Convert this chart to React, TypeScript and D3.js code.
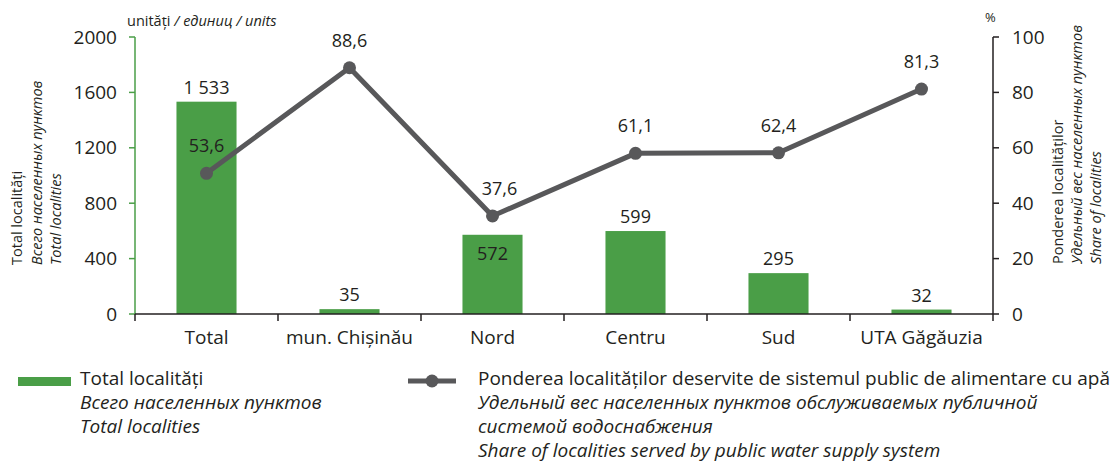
import React from "react";
import * as d3 from "d3";

const categories = ["Total", "mun. Chișinău", "Nord", "Centru", "Sud", "UTA Găgăuzia"];
const localities = [1533, 35, 572, 599, 295, 32];
const shareLabels = ["53,6", "88,6", "37,6", "61,1", "62,4", "81,3"];
// share positions as drawn in the reference
const sharePlotted = [50.8, 88.9, 35.4, 58.0, 58.2, 81.2];
const leftTicks = [0, 400, 800, 1200, 1600, 2000];
const rightTicks = [0, 20, 40, 60, 80, 100];
const insideLabelCats = ["Nord"];

const W = 1113;
const H = 464;
const FONT = "'Open Sans', sans-serif";
const TXT = "#231f20";
const GREEN = "#4a9e47";
const GREY = "#58585a";

export default function App() {
  const x = d3.scaleBand<string>().domain(categories).range([135, 993]).padding(0);
  const yL = d3.scaleLinear().domain([0, 2000]).range([314, 37]);
  const yR = d3.scaleLinear().domain([0, 100]).range([314, 37]);
  const bw = x.step() * 0.42;
  const cx = (c: string) => (x(c) as number) + x.bandwidth() / 2;
  const line = d3
    .line<number>()
    .x((_, i) => cx(categories[i]))
    .y((d) => yR(d));

  const boundaries = d3.range(categories.length + 1).map((i) => 135 + i * x.step());

  return (
    <svg width={W} height={H} style={{ position: "absolute", left: 0, top: 0 }} fontFamily={FONT}>
      <rect width={W} height={H} fill="#fff" />
      {/* bars */}
      {categories.map((c, i) => (
        <rect
          key={c}
          x={cx(c) - bw / 2}
          y={yL(localities[i])}
          width={bw}
          height={yL(0) - yL(localities[i])}
          fill={GREEN}
        />
      ))}
      {/* left axis */}
      <line x1={135} x2={135} y1={yL(2000)} y2={yL(0)} stroke={GREEN} strokeWidth={1.5} />
      {leftTicks.map((t) => (
        <g key={t}>
          <line x1={129} x2={135} y1={yL(t)} y2={yL(t)} stroke={GREEN} strokeWidth={1.5} />
          <text x={117} y={yL(t)} dy="0.35em" textAnchor="end" fontSize={19} fill={TXT}>
            {t}
          </text>
        </g>
      ))}
      {/* right axis */}
      <line x1={993} x2={993} y1={yR(100)} y2={yR(0)} stroke={TXT} strokeWidth={1.5} />
      {rightTicks.map((t) => (
        <g key={t}>
          <line x1={993} x2={999} y1={yR(t)} y2={yR(t)} stroke={TXT} strokeWidth={1.5} />
          <text x={1012} y={yR(t)} dy="0.35em" textAnchor="start" fontSize={19} fill={TXT}>
            {t}
          </text>
        </g>
      ))}
      {/* bottom axis */}
      <line x1={135} x2={993} y1={314} y2={314} stroke={TXT} strokeWidth={1.5} />
      {boundaries.map((b, i) => (
        <line key={i} x1={b} x2={b} y1={314} y2={321} stroke={TXT} strokeWidth={1.5} />
      ))}
      {categories.map((c) => (
        <text key={c} x={cx(c)} y={344} textAnchor="middle" fontSize={19} fill={TXT}>
          {c}
        </text>
      ))}
      {/* bar labels */}
      {categories.map((c, i) => {
        const inside = insideLabelCats.includes(c);
        return (
          <text
            key={c}
            x={cx(c)}
            y={inside ? yL(localities[i]) + 25 : yL(localities[i]) - 8}
            textAnchor="middle"
            fontSize={18}
            fill={TXT}
          >
            {d3.format(",")(localities[i]).replace(/,/g, " ")}
          </text>
        );
      })}
      {/* line */}
      <path d={line(sharePlotted) || ""} fill="none" stroke={GREY} strokeWidth={5} strokeLinejoin="round" />
      {sharePlotted.map((v, i) => (
        <circle key={i} cx={cx(categories[i])} cy={yR(v)} r={6.5} fill={GREY} />
      ))}
      {sharePlotted.map((v, i) => (
        <text key={i} x={cx(categories[i]) + (i === 2 ? 7 : 0)} y={yR(v) - 21} textAnchor="middle" fontSize={18} fill={TXT}>
          {shareLabels[i]}
        </text>
      ))}
      {/* axis units */}
      <text x={127} y={26} fontSize={14.5} fill={TXT}>
        unități <tspan fontStyle="italic">/ единиц / units</tspan>
      </text>
      <text x={985} y={22} fontSize={13} fill={TXT}>
        %
      </text>
      {/* left axis title */}
      <g transform="translate(0,265)">
        <text transform="translate(22,0) rotate(-90)" fontSize={14.5} fill={TXT}>Total localități</text>
        <text transform="translate(42,0) rotate(-90)" fontSize={14.5} fontStyle="italic" fill={TXT}>Всего населенных пунктов</text>
        <text transform="translate(61,0) rotate(-90)" fontSize={14.5} fontStyle="italic" fill={TXT}>Total localities</text>
      </g>
      {/* right axis title */}
      <g transform="translate(0,264)">
        <text transform="translate(1063,0) rotate(-90)" fontSize={14.5} fill={TXT}>Ponderea localităților</text>
        <text transform="translate(1082,0) rotate(-90)" fontSize={14.5} fontStyle="italic" fill={TXT}>Удельный вес населенных пунктов</text>
        <text transform="translate(1101,0) rotate(-90)" fontSize={14.5} fontStyle="italic" fill={TXT}>Share of localities</text>
      </g>
      {/* legend */}
      <rect x={18} y={377} width={53} height={9} fill={GREEN} />
      <text x={80} y={385} fontSize={19} fill={TXT}>Total localități</text>
      <text x={80} y={409} fontSize={19} fontStyle="italic" fill={TXT}>Всего населенных пунктов</text>
      <text x={80} y={433} fontSize={19} fontStyle="italic" fill={TXT}>Total localities</text>

      <line x1={408} x2={456} y1={381} y2={381} stroke={GREY} strokeWidth={5} />
      <circle cx={432} cy={381} r={6.5} fill={GREY} />
      <text x={478} y={385} fontSize={19} fill={TXT}>Ponderea localităților deservite de sistemul public de alimentare cu apă</text>
      <text x={478} y={409} fontSize={19} fontStyle="italic" fill={TXT}>Удельный вес населенных пунктов обслуживаемых публичной</text>
      <text x={478} y={433} fontSize={19} fontStyle="italic" fill={TXT}>системой водоснабжения</text>
      <text x={478} y={457} fontSize={19} fontStyle="italic" fill={TXT}>Share of localities served by public water supply system</text>
    </svg>
  );
}
